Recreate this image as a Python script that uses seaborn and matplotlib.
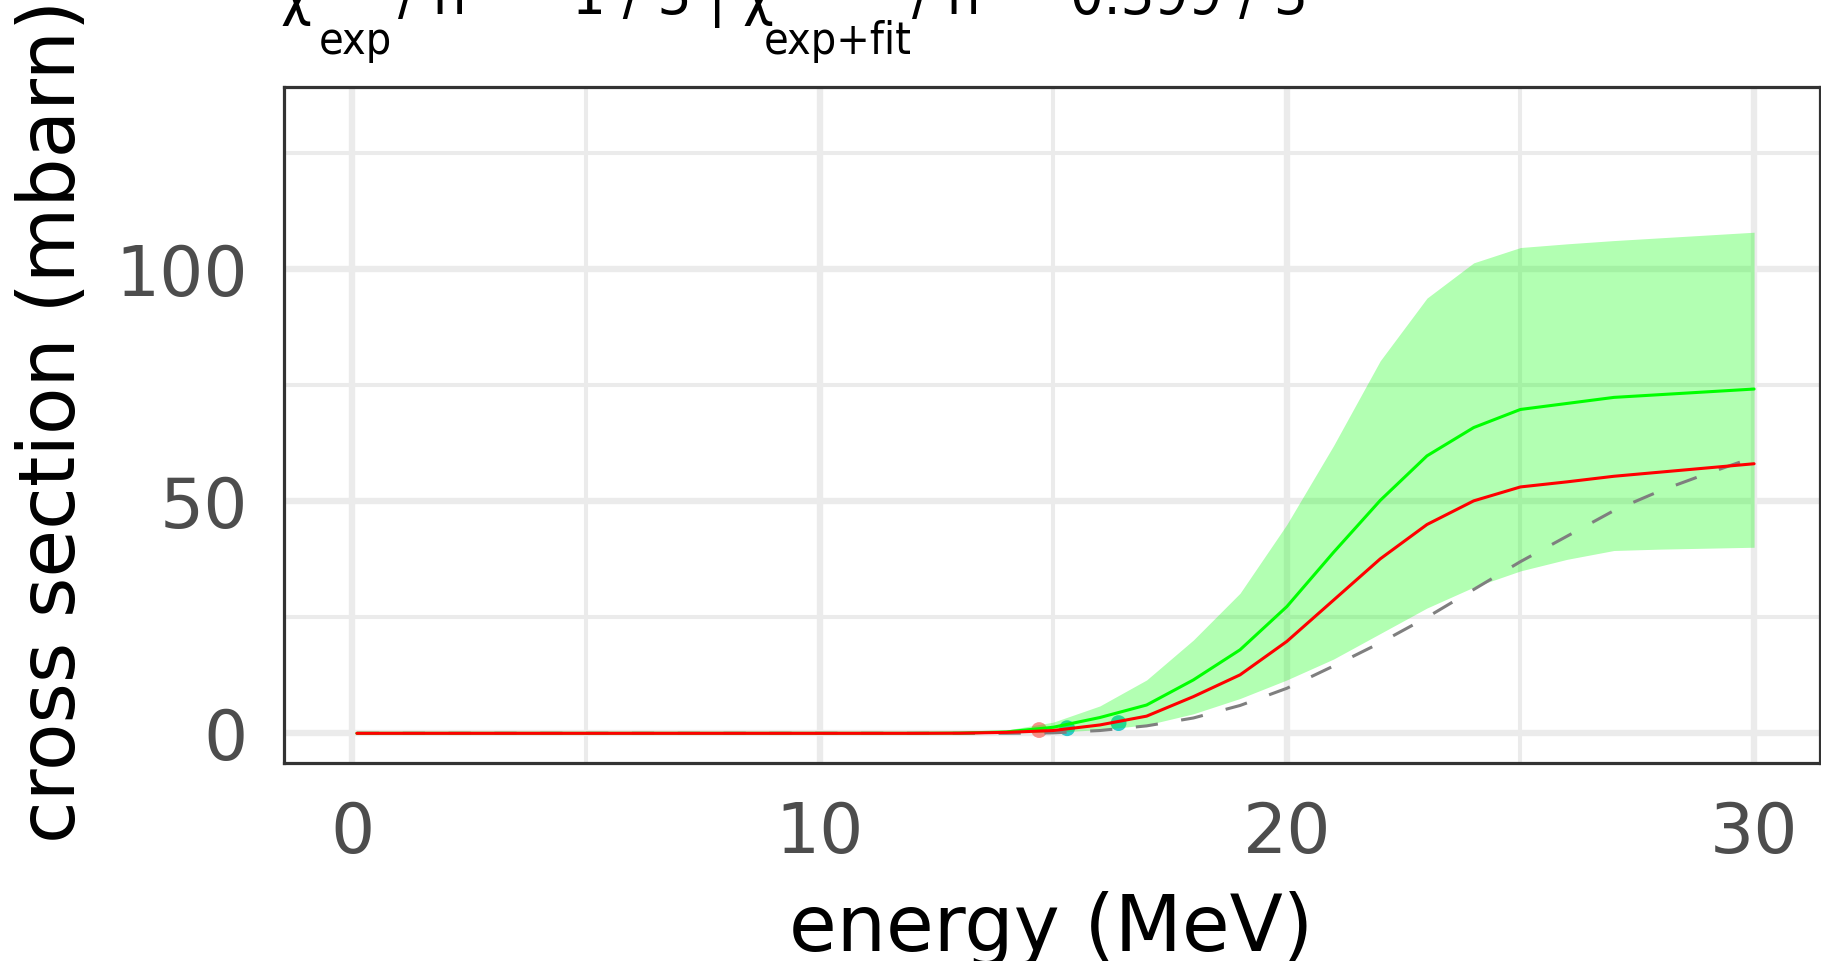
import numpy as np
import pandas as pd
import matplotlib
matplotlib.use("Agg")
import matplotlib.pyplot as plt
from matplotlib import font_manager as fm
import seaborn as sns

# ---- data ----
energy = [0.1, 1, 2, 3, 4, 5, 6, 7, 8, 9, 10, 11, 12, 13, 14, 15, 16, 17, 18,
          19, 20, 21, 22, 23, 24, 25, 26, 27, 28, 29, 30]
xs_exp_fit = [0, 0, 0, 0, 0, 0, 0, 0, 0, 0, 0, 0, 0, 0.05, 0.3, 1.3, 3.4, 6.1, 11.5,
              18.0, 27.3, 39.0, 50.2, 59.8, 65.9, 69.8, 71.1, 72.4, 73.0, 73.6, 74.2]
xs_fit = [0, 0, 0, 0, 0, 0, 0, 0, 0, 0, 0, 0, 0, 0.03, 0.2, 0.6, 1.8, 3.7, 7.9,
          12.6, 19.8, 28.7, 37.6, 45.0, 50.1, 53.1, 54.2, 55.4, 56.3, 57.2, 58.1]
band_upper = [0, 0, 0, 0, 0, 0, 0, 0, 0, 0, 0, 0, 0, 0.1, 0.7, 2.4, 5.9, 11.5, 20.1,
              30.2, 45.0, 62.0, 80.3, 93.8, 101.4, 104.7, 105.5, 106.2, 106.8, 107.4, 108.0]
band_lower = [0, 0, 0, 0, 0, 0, 0, 0, 0, 0, 0, 0, 0, 0, 0.1, 0.2, 0.8, 1.8, 4.2,
              7.5, 11.5, 16.0, 21.5, 27.0, 31.5, 35.0, 37.5, 39.4, 39.7, 39.9, 40.1]
xs_default = [0, 0, 0, 0, 0, 0, 0, 0, 0, 0, 0, 0, 0, 0, 0, 0.1, 0.6, 1.6, 3.3,
              6.0, 9.7, 14.5, 19.5, 25.0, 31.0, 37.0, 42.5, 48.0, 52.3, 56.0, 59.5]

exp_energy = [14.7, 15.3, 16.4]
exp_xs = [0.7, 1.1, 2.2]
exp_set = ["A", "B", "B"]

x_ticks = [0, 10, 20, 30]
y_ticks = [0, 50, 100]

# title: chi2_exp / n = 1 / 3 | chi2_exp+fit / n = 0.399 / 3
title_parts = ["χ²", "exp", "/ n", "=", "1 / 3 | χ²", "exp+fit", "/ n", "=", "0.399 / 3"]
title_kind = ["main", "sub", "main", "eq", "main", "sub", "main", "eq", "main"]

W, H = 1821, 961
sns.set_style("white")
plt.rcParams["font.family"] = ["DejaVu Sans"]
plt.rcParams["lines.scale_dashes"] = False

names = {f.name for f in fm.fontManager.ttflist}
if "Liberation Sans Narrow" in names:
    title_family, title_stretch = "Liberation Sans Narrow", "normal"
else:
    title_family, title_stretch = "DejaVu Sans", "condensed"

fig = plt.figure(figsize=(W / 100, H / 100), dpi=100)
L, R, T, B = 284, 1819.5, 87, 763
ax = fig.add_axes([L / W, 1 - B / H, (R - L) / W, (B - T) / H])

ax.set_xlim(-1.46, 31.4)
ax.set_ylim(-6.4, 139.3)

# grid
ax.set_xticks(x_ticks)
ax.set_yticks(y_ticks)
ax.set_xticks([5, 15, 25], minor=True)
ax.set_yticks([25, 75, 125], minor=True)
ax.grid(which="major", color="#EBEBEB", linewidth=4.6, zorder=0)
ax.grid(which="minor", color="#EBEBEB", linewidth=2.9, zorder=0)
ax.set_axisbelow(True)

df_pts = pd.DataFrame({"energy": exp_energy, "xs": exp_xs, "set": exp_set})
sns.scatterplot(data=df_pts, x="energy", y="xs", hue="set",
                palette={"A": "#F8766D", "B": "#00BFC4"}, s=130, alpha=0.8,
                edgecolor="none", legend=False, ax=ax, zorder=2)

ax.fill_between(energy, band_lower, band_upper, color="#00FF00", alpha=0.3,
                linewidth=0, zorder=3)

df = pd.DataFrame({"energy": energy, "fit": xs_fit, "expfit": xs_exp_fit,
                   "default": xs_default})
sns.lineplot(data=df, x="energy", y="default", color="#7F7F7F", linewidth=2.2,
             ax=ax, zorder=4)
ax.lines[-1].set_dashes((16, 17))
sns.lineplot(data=df, x="energy", y="expfit", color="#00FF00", linewidth=2.2,
             ax=ax, zorder=5)
sns.lineplot(data=df, x="energy", y="fit", color="#FF0000", linewidth=2.2,
             ax=ax, zorder=6)

for s in ax.spines.values():
    s.set_visible(True)
    s.set_color("#333333")
    s.set_linewidth(2.3)
    s.set_zorder(10)

ax.tick_params(which="major", length=16, width=5, color="#333333",
               labelsize=50, labelcolor="#4D4D4D", pad=10)
ax.tick_params(which="minor", length=0)
ax.tick_params(axis="x", pad=11)
ax.set_xticklabels([str(v) for v in x_ticks])
ax.set_yticklabels([str(v) for v in y_ticks])
ax.set_xlabel("")
ax.set_ylabel("")

fig.text(1051 / W, 1 - 951 / H, "energy (MeV)", fontsize=56, color="black",
         ha="center", va="baseline")
fig.text(75 / W, 1 - 421 / H, "cross section (mbarn)", fontsize=56,
         color="black", rotation=90, rotation_mode="anchor",
         ha="center", va="baseline")

# title pieces (top of the title lies outside the picture, as in the reference)
fig.canvas.draw()
rend = fig.canvas.get_renderer()
title_left = [280, 319, 398, 520, 572, 764, 912, 1030, 1070]
main_size = 50.0
sub_size = 44.0
probe = fig.text(0, 0, "0.399 / 3", fontsize=main_size, family=title_family,
                 stretch=title_stretch)
main_size *= 238.0 / probe.get_window_extent(rend).width
probe.remove()
probe = fig.text(0, 0, "exp+fit", fontsize=sub_size, family=title_family,
                 stretch=title_stretch)
sub_size *= 148.0 / probe.get_window_extent(rend).width
probe.remove()

for txt, x0, kind in zip(title_parts, title_left, title_kind):
    base = {"main": 14, "sub": 54, "eq": 3}[kind]
    fig.text(x0 / W, 1 - base / H, txt,
             fontsize=sub_size if kind == "sub" else main_size,
             family=title_family, stretch=title_stretch, color="black",
             ha="center" if kind == "eq" else "left", va="baseline")

fig.savefig("out.png", dpi=100, facecolor="white")
